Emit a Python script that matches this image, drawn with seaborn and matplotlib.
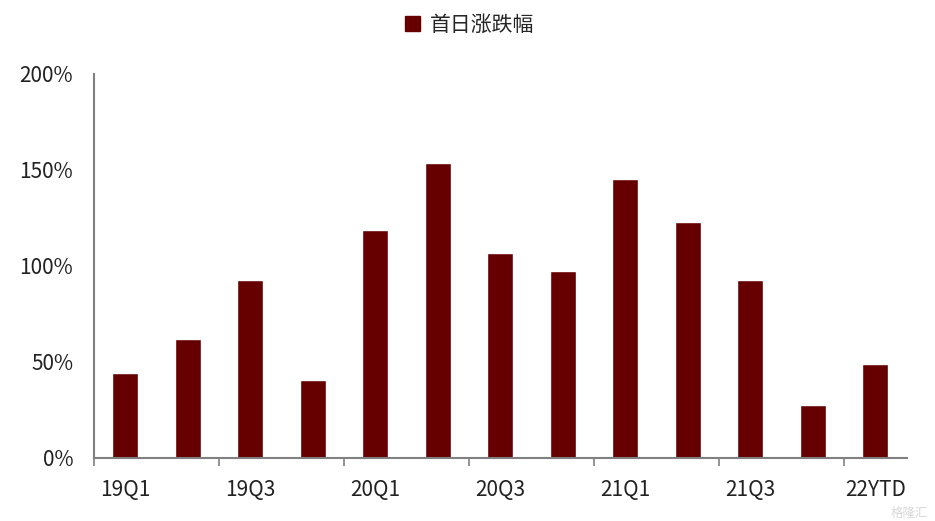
import matplotlib
matplotlib.use("Agg")
import matplotlib.pyplot as plt
import seaborn as sns
import pandas as pd
import numpy as np
from matplotlib.patches import Patch

categories = ["19Q1", "19Q2", "19Q3", "19Q4", "20Q1", "20Q2", "20Q3", "20Q4",
              "21Q1", "21Q2", "21Q3", "21Q4", "22YTD"]
values = [44.3, 62.0, 92.7, 40.6, 118.8, 153.6, 106.8, 97.4, 145.3, 122.9, 92.7, 27.6, 49.0]
series_name = "首日涨跌幅"
y_ticks = [0, 50, 100, 150, 200]

sns.set_theme(style="white")
plt.rcParams['font.family'] = ['Noto Sans CJK SC', 'DejaVu Sans']

df = pd.DataFrame({"cat": categories, "val": values, "series": series_name})

fig = plt.figure(figsize=(9.35, 5.21), dpi=100)
ax = fig.add_axes([94/935, 1 - 458/521, (906.5 - 94)/935, (458 - 74)/521])

color = "#660000"
sns.barplot(data=df, x="cat", y="val", hue="series", palette=[color],
            width=0.42, saturation=1, ax=ax, legend=False)

ax.set_ylim(0, 200)
ax.set_xlim(-0.5, len(categories) - 0.5)
ax.set_yticks(y_ticks)
ax.set_yticklabels([f"{v}%" for v in y_ticks], fontsize=15, color="#222222")
ax.tick_params(axis="y", length=0, pad=15)

ax.set_xticks(range(0, len(categories), 2))
ax.set_xticklabels([categories[i] for i in range(0, len(categories), 2)],
                   fontsize=15, color="#222222")
ax.tick_params(axis="x", which="major", length=0, pad=15)
ax.set_xticks(np.arange(-0.5, len(categories) - 0.5, 2), minor=True)
ax.tick_params(axis="x", which="minor", length=6, width=1.2, color="#808080",
               direction="out", bottom=True)

for s in ["top", "right"]:
    ax.spines[s].set_visible(False)
for s in ["left", "bottom"]:
    ax.spines[s].set_color("#808080")
    ax.spines[s].set_linewidth(1.5)
ax.set_xlabel("")
ax.set_ylabel("")

handles = [Patch(facecolor=color, edgecolor=color, label=series_name)]
fig.legend(handles=handles, loc="center", bbox_to_anchor=(470/935, 1 - 25/521),
           frameon=False, fontsize=15, handlelength=0.7, handleheight=0.7,
           handletextpad=0.5)

fig.text(0.993, 0.002, "格隆汇", ha="right", va="bottom", fontsize=9,
         color="#d8d8d8")

fig.savefig("out.png", dpi=100)
